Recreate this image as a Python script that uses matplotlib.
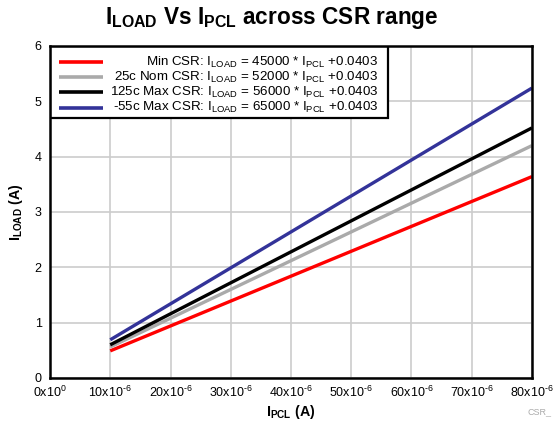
import matplotlib
matplotlib.use("Agg")
import matplotlib.pyplot as plt
from matplotlib.patches import Rectangle

plt.rcParams['font.family'] = ['Liberation Sans', 'DejaVu Sans']
plt.rcParams['mathtext.fontset'] = 'custom'
plt.rcParams['mathtext.rm'] = 'Liberation Sans'
plt.rcParams['mathtext.bf'] = 'Liberation Sans:bold'
plt.rcParams['mathtext.it'] = 'Liberation Sans:italic'
plt.rcParams['mathtext.default'] = 'regular'

# ---- data ----
ipcl = [10e-6, 80e-6]
min_csr = [0.4903, 3.6403]
nom_csr = [0.5603, 4.2003]
max125_csr = [0.6003, 4.5203]
max55_csr = [0.6903, 5.2403]

series_values = [min_csr, nom_csr, max125_csr, max55_csr]
series_labels = [
    r"Min CSR: I$_{LOAD}$ = 45000 * I$_{PCL}$ +0.0403",
    r"25c Nom CSR: I$_{LOAD}$ = 52000 * I$_{PCL}$ +0.0403",
    r"125c Max CSR: I$_{LOAD}$ = 56000 * I$_{PCL}$ +0.0403",
    r"-55c Max CSR: I$_{LOAD}$ = 65000 * I$_{PCL}$ +0.0403",
]
series_colors = ["#ff0000", "#aaaaaa", "#000000", "#333399"]

x_ticks = [0, 10e-6, 20e-6, 30e-6, 40e-6, 50e-6, 60e-6, 70e-6, 80e-6]
x_tick_labels = [r"0x10$^{0}$", r"10x10$^{\text{-6}}$", r"20x10$^{\text{-6}}$",
                 r"30x10$^{\text{-6}}$", r"40x10$^{\text{-6}}$", r"50x10$^{\text{-6}}$",
                 r"60x10$^{\text{-6}}$", r"70x10$^{\text{-6}}$", r"80x10$^{\text{-6}}$"]
y_ticks = [0, 1, 2, 3, 4, 5, 6]

fig = plt.figure(figsize=(5.55, 4.22), dpi=100)
ax = fig.add_axes([50/555, (422-378)/422, (532-50)/555, (378-46)/422])

for vals, col in zip(series_values, series_colors):
    ax.plot(ipcl, vals, color=col, lw=2.4, solid_capstyle='butt', zorder=3)

ax.set_xlim(0, 80e-6)
ax.set_ylim(0, 6)
ax.set_xticks(x_ticks)
ax.set_xticklabels(x_tick_labels, fontsize=9)
ax.set_yticks(y_ticks)
ax.set_yticklabels([str(v) for v in y_ticks], fontsize=9)
ax.tick_params(axis='y', length=0, pad=6)
ax.tick_params(axis='x', length=0, pad=5)
ax.grid(True, color="#cccccc", lw=1.2, zorder=0)
for s in ax.spines.values():
    s.set_linewidth(1.8)
    s.set_color("black")
    s.set_zorder(5)

fig.text(272/555, (422-18)/422,
         r"I$_{\mathbf{LOAD}}$ Vs I$_{\mathbf{PCL}}$ across CSR range",
         fontsize=16.3, fontweight='bold', ha='center', va='center')
ax.set_xlabel(r"I$_{\mathbf{PCL}}$ (A)", fontsize=10.3, fontweight='bold', labelpad=2)
ax.set_ylabel(r"I$_{\mathbf{LOAD}}$ (A)", fontsize=10.3, fontweight='bold', labelpad=7)

# ---- legend (text right-aligned, handles left) ----
def fx(px):
    return (px - 50) / (532 - 50)

def fy(py):
    return (378 - py) / (378 - 46)

ax.add_patch(Rectangle((fx(50), fy(118)), fx(388) - fx(50), fy(46) - fy(118),
                       transform=ax.transAxes, facecolor='white', edgecolor='black',
                       lw=1.6, zorder=4))
rows_px = [62, 77, 92, 107.7]
for lab, col, ry in zip(series_labels, series_colors, rows_px):
    ax.plot([fx(59), fx(102.5)], [fy(ry), fy(ry)], transform=ax.transAxes,
            color=col, lw=2.6, solid_capstyle='butt', zorder=6)
    ax.text(fx(378), fy(ry), lab, transform=ax.transAxes, ha='right', va='center',
            fontsize=9.6, zorder=6)

fig.text(540/555, (422-412)/422, "CSR_", fontsize=6.5, color="#aaaaaa",
         ha='center', va='center')

fig.savefig("out.png", dpi=100)
